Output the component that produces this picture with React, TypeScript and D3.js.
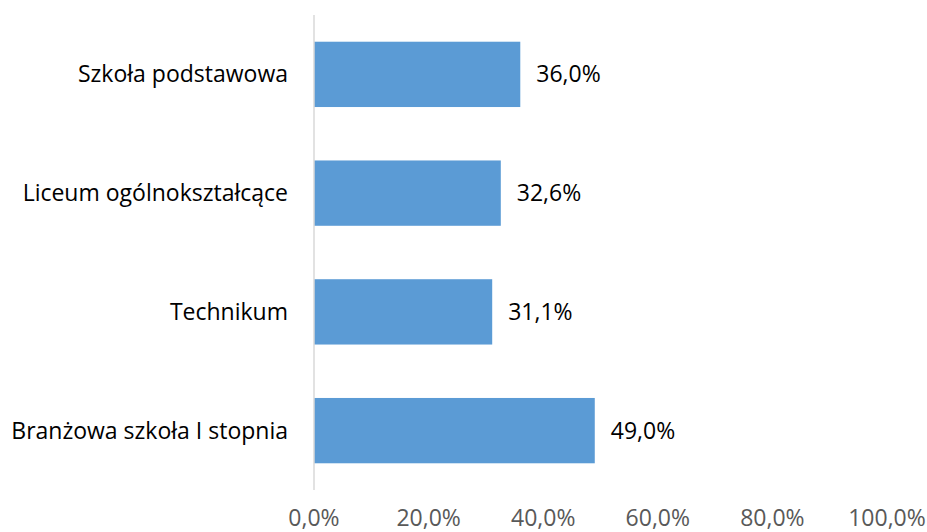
import React from "react";
import * as d3 from "d3";

const categories = ["Szkoła podstawowa", "Liceum ogólnokształcące", "Technikum", "Branżowa szkoła I stopnia"];
const values = [36.0, 32.6, 31.1, 49.0];
const ticks = [0, 20, 40, 60, 80, 100];

const W = 927, H = 532;
const FONT = "'Open Sans', sans-serif";
const FS = 23;

export default function App() {
  const x = d3.scaleLinear().domain([0, 100]).range([314, 887]);
  const y = d3.scaleBand<string>().domain(categories).range([15, 490]).paddingInner(0.45).paddingOuter(0.225);
  const fmt = (v: number) => v.toFixed(1).replace(".", ",") + "%";
  return (
    <svg width={W} height={H} style={{ position: "absolute", left: 0, top: 0 }}>
      <rect width={W} height={H} fill="#fff" />
      {categories.map((c, i) => (
        <g key={c}>
          <rect x={x(0)} y={y(c)!} width={x(values[i]) - x(0)} height={y.bandwidth()} fill="#5B9BD5" />
          <text x={288} y={y(c)! + y.bandwidth() / 2} dy="0.35em" textAnchor="end" fontFamily={FONT} fontSize={FS} fill="#000">{c}</text>
          <text x={x(values[i]) + 16} y={y(c)! + y.bandwidth() / 2} dy="0.35em" fontFamily={FONT} fontSize={FS} fill="#000">{fmt(values[i])}</text>
        </g>
      ))}
      <line x1={x(0)} x2={x(0)} y1={15} y2={490} stroke="#D9D9D9" strokeWidth={1.5} />
      {ticks.map(t => (
        <text key={t} x={x(t)} y={526} textAnchor="middle" fontFamily={FONT} fontSize={FS} fill="#595959">{fmt(t)}</text>
      ))}
    </svg>
  );
}
